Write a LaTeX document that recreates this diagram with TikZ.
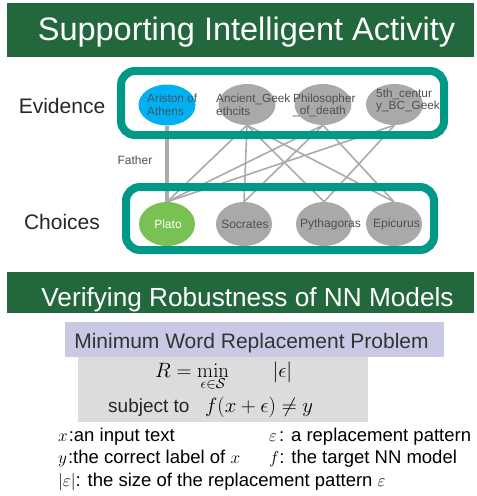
\documentclass[tikz,border=0pt]{standalone}
\usepackage[no-math]{fontspec}
\setmainfont{Liberation Sans}
\usetikzlibrary{shapes.geometric}
\definecolor{bannergreen}{RGB}{34,104,60}
\definecolor{tealbox}{RGB}{0,153,136}
\definecolor{nodegray}{RGB}{169,169,172}
\definecolor{edgegray}{RGB}{171,171,175}
\definecolor{arcyan}{RGB}{0,176,240}
\definecolor{platogreen}{RGB}{122,193,83}
\definecolor{nodetext}{RGB}{80,80,80}
\definecolor{aristext}{RGB}{60,90,112}
\definecolor{lavender}{RGB}{201,201,230}
\definecolor{formgray}{RGB}{220,220,220}
\pgfdeclarelayer{edgelayer}
\pgfdeclarelayer{boxlayer}
\pgfsetlayers{edgelayer,boxlayer,main}
\tikzset{
  banner/.style={fill=bannergreen, draw=none},
  bannertext/.style={text=white, anchor=base, inner sep=0pt},
  groupbox/.style={draw=tealbox, line width=8pt, rounded corners=14pt},
  evnode/.style={ellipse, minimum width=57pt, minimum height=41pt, inner sep=0pt, fill=nodegray},
  chnode/.style={ellipse, minimum width=56pt, minimum height=44pt, inner sep=0pt, fill=nodegray},
  evtext/.style={anchor=west, align=left, inner sep=0pt, text=nodetext, font=\fontsize{11.8}{12.5}\selectfont},
  chtext/.style={inner sep=0pt, text=nodetext, font=\fontsize{12}{14}\selectfont},
  sidelabel/.style={anchor=base, inner sep=0pt, text=black!85, font=\fontsize{21}{24}\selectfont},
  thinedge/.style={draw=edgegray, line width=1.6pt},
  thickedge/.style={draw=edgegray, line width=3.5pt},
  legend/.style={anchor=base west, inner sep=0pt, font=\fontsize{18.5}{22}\selectfont},
}
\begin{document}
\begin{tikzpicture}[x=1pt,y=-1pt]
\useasboundingbox (0,0) rectangle (477,496);
\begin{pgfonlayer}{edgelayer}
\fill[white] (0,0) rectangle (477,496);
\end{pgfonlayer}

% banner 1
\fill[banner] (7,3) rectangle (474,57);
\node[bannertext, font=\fontsize{32.5}{36}\selectfont] (title1) at (246.5,40) {Supporting Intelligent Activity};

% side labels
\node[sidelabel] (evlabel) at (62,113) {Evidence};
\node[sidelabel] (chlabel) at (62,229) {Choices};
\node[inner sep=0pt, text=nodetext, font=\fontsize{12}{14}\selectfont] (father) at (135,160) {Father};

% evidence nodes
\node[evnode, fill=arcyan] (ariston) at (167,105) {};
\node[evnode] (ancient) at (247,104.5) {};
\node[evnode] (philo) at (323,104.5) {};
\node[evnode] (fifth) at (394.5,104.5) {};
\node[evtext, text=aristext] (aristont) at (147,105) {Ariston of\\Athens};
\node[evtext] (ancientt) at (216,105) {Ancient\_Geek\\ethcits};
\node[evtext] (philot) at (293,105.5) {Philosopher\\\_of\_death};
\node[evtext] (fiftht) at (376,100.5) {5th\_centur\\y\_BC\_Geek};

% choice nodes
\node[chnode, fill=platogreen] (plato) at (167,224) {};
\node[chnode] (socrates) at (244,224) {};
\node[chnode] (pyth) at (324,224) {};
\node[chnode] (epic) at (394,224) {};
\node[chtext, text=white] (platot) at (168,224) {Plato};
\node[chtext] (socratest) at (245,224) {Socrates};
\node[chtext] (pytht) at (330.5,224) {Pythagoras};
\node[chtext] (epict) at (396.5,224) {Epicurus};

% edges
\begin{pgfonlayer}{edgelayer}
\draw[thickedge] (ariston.south) -- (plato.north);
\draw[thinedge] (ancient.south) -- (plato.north);
\draw[thinedge] (ancient.south) -- (socrates.north);
\draw[thinedge] (ancient.south) -- (pyth.north);
\draw[thinedge] (ancient.south) -- (epic.north);
\draw[thinedge] (philo.south) -- (plato.north);
\draw[thinedge] (philo.south) -- (socrates.north);
\draw[thinedge] (philo.south) -- (epic.north);
\draw[thinedge] (fifth.south) -- (plato.north);
\draw[thinedge] (fifth.south) -- (pyth.north);
\end{pgfonlayer}

% group boxes
\begin{pgfonlayer}{boxlayer}
\draw[groupbox] (121,71) rectangle (444,135);
\draw[groupbox] (126,187) rectangle (434,250);
\end{pgfonlayer}

% banner 2
\fill[banner] (7,272) rectangle (474,313);
\node[bannertext, font=\fontsize{26.2}{30}\selectfont] (title2) at (247.5,306) {Verifying Robustness of NN Models};

% problem box
\fill[lavender] (65,322) rectangle (444,357);
\node[anchor=base, inner sep=0pt, text=black!80, font=\fontsize{21}{24}\selectfont] (probtitle) at (251.5,348) {Minimum Word Replacement Problem};
\fill[formgray] (78,357) rectangle (368,422);
\node[anchor=base west, inner sep=0pt, font=\fontsize{20}{24}\selectfont] (rmin) at (155,377) {$\displaystyle R=\min_{\epsilon\in\mathcal{S}}\qquad|\epsilon|$};
\node[anchor=base west, inner sep=0pt, text=black!85, font=\fontsize{19}{22}\selectfont] (subj) at (108,412) {subject to};
\node[anchor=base west, inner sep=0pt, font=\fontsize{21}{24}\selectfont] (constr) at (205,412) {$f(x+\epsilon)\neq y$};

% legend
\node[legend] (lx) at (58,441) {$x$\kern1pt:an input text};
\node[legend] (le) at (269,441) {$\varepsilon$\kern2pt: a replacement pattern};
\node[legend] (ly) at (58,463) {$y$\kern1pt:the correct label of $x$};
\node[legend] (lf) at (269,463) {$f$: the target NN model};
\node[legend] (ls) at (58,486) {$|\varepsilon|$: the size of the replacement pattern $\varepsilon$};
\end{tikzpicture}
\end{document}
